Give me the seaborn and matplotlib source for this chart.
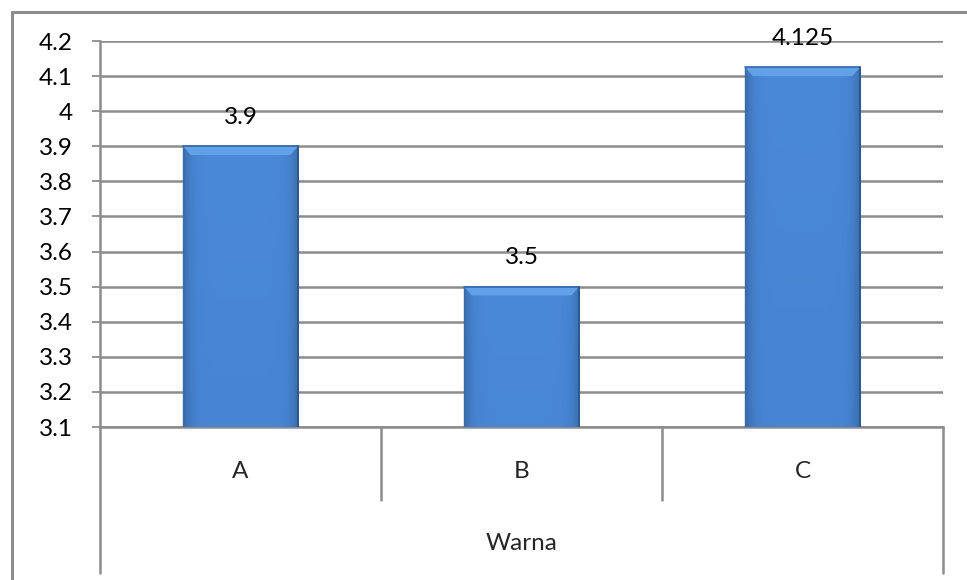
import numpy as np
import pandas as pd
import matplotlib
matplotlib.use("Agg")
import matplotlib.pyplot as plt
from matplotlib.lines import Line2D
from matplotlib.colors import LinearSegmentedColormap
import seaborn as sns

categories = ["A", "B", "C"]
values = [3.9, 3.5, 4.125]
value_labels = ["3.9", "3.5", "4.125"]
y_ticks = [3.1, 3.2, 3.3, 3.4, 3.5, 3.6, 3.7, 3.8, 3.9, 4.0, 4.1, 4.2]
y_tick_labels = ["3.1", "3.2", "3.3", "3.4", "3.5", "3.6", "3.7", "3.8", "3.9", "4", "4.1", "4.2"]
axis_title = "Warna"

sns.set_theme(style="white")
plt.rcParams["font.family"] = ["Lato", "DejaVu Sans"]
FS = 17.5

W, H = 967, 580
fig = plt.figure(figsize=(W / 100, H / 100), dpi=100)

left_px, right_px, top_px, bottom_px = 100, 943, 41, 427
ax = fig.add_axes([left_px / W, 1 - bottom_px / H,
                   (right_px - left_px) / W, (bottom_px - top_px) / H])

df = pd.DataFrame({"cat": categories, "val": values})
sns.barplot(data=df, x="cat", y="val", color="#4a84d0", width=0.41,
            ax=ax, zorder=3, edgecolor="none", saturation=1)

ax.set_ylim(3.1, 4.2)
ax.set_xlim(-0.5, 2.5)
ax.set_yticks(y_ticks)
ax.set_yticklabels(y_tick_labels)
ax.set_xticks([])
ax.set_xlabel("")
ax.set_ylabel("")
ax.yaxis.grid(True, color="#8c8c8c", linewidth=1.8, zorder=0)
ax.tick_params(axis="y", length=5.8, width=1.3, color="#8c8c8c",
               labelsize=FS, pad=13.5, left=True, labelcolor="#000000")
for side in ["top", "right"]:
    ax.spines[side].set_visible(False)
for side in ["left", "bottom"]:
    ax.spines[side].set_color("#8c8c8c")
    ax.spines[side].set_linewidth(1.8)

# Shaded bar fill: vertical gradient with a bevelled top edge
cmap = LinearSegmentedColormap.from_list(
    "bar", ["#3563a5", "#3f74bd", "#4683d1", "#4a89d8"])
grad = np.linspace(0, 1, 256).reshape(-1, 1)
horiz = np.linspace(-1, 1, 64)
shade = 1 - 0.2 * np.abs(horiz) ** 8
for patch in ax.patches:
    x0, y0 = patch.get_x(), patch.get_y()
    w, h = patch.get_width(), patch.get_height()
    rgb = cmap(grad)[:, :, :3] * shade[None, :, None]
    ax.imshow(rgb, extent=[x0, x0 + w, y0, y0 + h], origin="lower",
              aspect="auto", zorder=3.5, clip_path=patch, clip_on=True)
    # bevel strip on top
    bevel_h = 0.025
    ax.fill([x0, x0 + w, x0 + w - 0.028, x0 + 0.028],
            [y0 + h, y0 + h, y0 + h - bevel_h, y0 + h - bevel_h],
            color="#62a0e8", zorder=3.6, linewidth=0)
    ax.plot([x0, x0 + w], [y0 + h, y0 + h], color="#3468ad",
            linewidth=1.2, zorder=3.7)
    ax.plot([x0 + w, x0 + w], [y0, y0 + h], color="#2b548c",
            linewidth=1.2, zorder=3.7)
    ax.plot([x0, x0], [y0, y0 + h], color="#3a6aa8",
            linewidth=1.0, zorder=3.7)
ax.set_xlim(-0.5, 2.5)
ax.set_ylim(3.1, 4.2)

# Value labels above bars
for i, (v, lab) in enumerate(zip(values, value_labels)):
    ax.annotate(lab, (i, v), xytext=(0, 21), textcoords="offset points",
                ha="center", va="center", fontsize=FS, color="#000000",
                zorder=5, annotation_clip=False)


def fx(px):
    return px / W


def fy(py):
    return 1 - py / H


gray = "#8c8c8c"
# Category table below the axis
fig.add_artist(Line2D([fx(left_px), fx(left_px)], [fy(bottom_px), fy(573)],
                      color=gray, linewidth=1.8))
fig.add_artist(Line2D([fx(right_px), fx(right_px)], [fy(bottom_px), fy(573)],
                      color=gray, linewidth=1.8))
cat_w = (right_px - left_px) / 3
for k in (1, 2):
    xs = left_px + k * cat_w
    fig.add_artist(Line2D([fx(xs), fx(xs)], [fy(bottom_px), fy(500)],
                          color=gray, linewidth=1.8))
for k, c in enumerate(categories):
    xc = left_px + (k + 0.5) * cat_w
    fig.text(fx(xc), fy(471), c, ha="center", va="center", fontsize=FS)
fig.text(fx((left_px + right_px) / 2), fy(543), axis_title,
         ha="center", va="center", fontsize=FS)

# Chart frame
fig.add_artist(Line2D([fx(12), fx(12)], [fy(12), 0], color=gray, linewidth=2.2))
fig.add_artist(Line2D([fx(12), 1], [fy(12), fy(12)], color=gray, linewidth=2.2))

fig.savefig("out.png", dpi=100, facecolor="white")
